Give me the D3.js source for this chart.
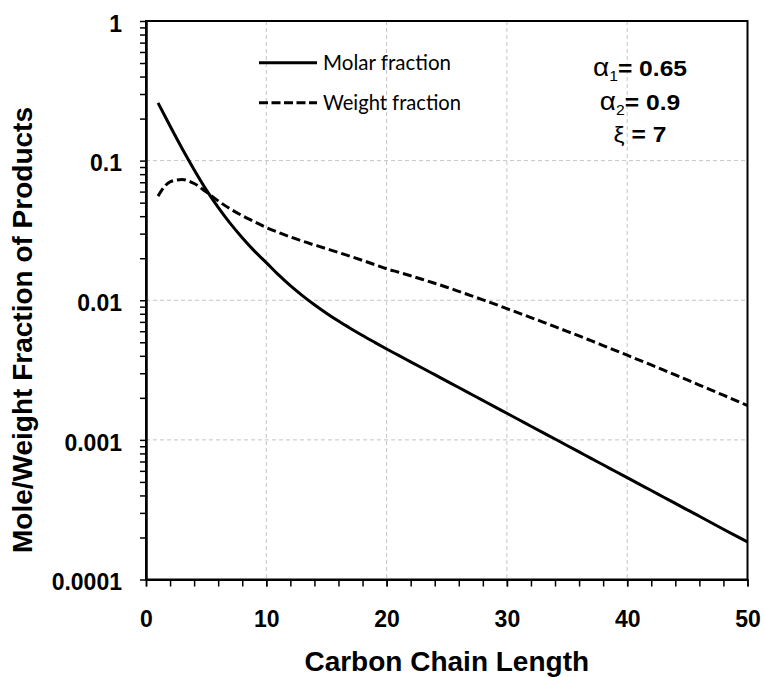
<!DOCTYPE html>
<html><head><meta charset="utf-8">
<script src="https://cdn.jsdelivr.net/npm/d3@7"></script>
<style>body{margin:0;background:#fff}</style>
</head><body>
<svg id="chart" width="764" height="677"></svg>
<script>
const carbonNumber = [1,2,3,4,5,6,7,8,9,10,11,12,13,14,15,16,17,18,19,20,21,22,23,24,25,26,27,28,29,30,31,32,33,34,35,36,37,38,39,40,41,42,43,44,45,46,47,48,49,50];
const molarFraction = [0.259,0.1769,0.1221,0.0861,0.0620,0.0462,0.0355,0.02805,0.02258,0.0186,0.01525,0.01273,0.0108,0.00929,0.00808,0.00709,0.00628,0.00559,0.0050,0.00448,
  0.004029,0.003623,0.003258,0.00293,0.002635,0.00237,0.002131,0.001916,0.001723,0.00155,0.001394,0.001253,0.001127,0.001014,0.000912,0.00082,0.000737,0.000663,0.000596,0.000536,
  0.000482,0.000434,0.00039,0.000351,0.000315,0.000284,0.000255,0.000229,0.000206,0.000186];
const weightFraction = [0.0557,0.0705,0.0733,0.0686,0.0598,0.0515,0.0451,0.0404,0.0366,0.0332,0.0306,0.0284,0.0265,0.0249,0.0234,0.0220,0.0206,0.0193,0.0180,0.0168,
  0.01588,0.01497,0.01409,0.01323,0.0124,0.01158,0.0108,0.01007,0.00938,0.0087,0.00809,0.00752,0.00698,0.00647,0.00599,0.00555,0.00513,0.00474,0.00438,0.00404,
  0.00373,0.00344,0.00317,0.00292,0.00269,0.00247,0.00227,0.00209,0.00192,0.00176];
const xTickValues = [0,10,20,30,40,50];
const xMinorTickValues = [0,2,4,6,8,10,12,14,16,18,20,22,24,26,28,30,32,34,36,38,40,42,44,46,48,50];
const xGridValues = [10,20,30,40];
const yTickValues = [1,0.1,0.01,0.001,0.0001];
const yTickLabels = ["1","0.1","0.01","0.001","0.0001"];
const yGridValues = [0.1,0.01,0.001];
const seriesNames = ["Molar fraction","Weight fraction"];
const xTitle = "Carbon Chain Length";
const yTitle = "Mole/Weight Fraction of Products";

const svg = d3.select("#chart");
const L = 146, R = 747.5, T = 21, B = 579.5;
const x = d3.scaleLinear().domain([0,50]).range([L,R]);
const y = d3.scaleLog().domain([1e-4,1]).range([B,T]);

const yMinor = [];
[1e-4,1e-3,1e-2,1e-1].forEach(d => { for (let k=2;k<=9;k++) yMinor.push(d*k); });

svg.append("g").selectAll("line").data(xGridValues).join("line")
  .attr("x1",d=>x(d)).attr("x2",d=>x(d)).attr("y1",T).attr("y2",B)
  .attr("stroke","#c4c4c4").attr("stroke-width",1).attr("stroke-dasharray","4,3");
svg.append("g").selectAll("line").data(yGridValues).join("line")
  .attr("x1",L).attr("x2",R).attr("y1",d=>y(d)).attr("y2",d=>y(d))
  .attr("stroke","#c4c4c4").attr("stroke-width",1).attr("stroke-dasharray","4,3");

const fontB = "'Liberation Sans', Arial, sans-serif";

const gx = svg.append("g").attr("transform",`translate(0,${B})`);
gx.append("g").call(d3.axisBottom(x).tickValues(xMinorTickValues).tickSize(7).tickSizeOuter(0).tickFormat(""));
gx.append("g").call(d3.axisBottom(x).tickValues(xTickValues).tickSize(7).tickSizeOuter(0).tickPadding(24).tickFormat(d3.format("d")));
gx.selectAll("text").attr("font-family",fontB).attr("font-weight","bold").attr("font-size",23).attr("fill","#000");

const gy = svg.append("g").attr("transform",`translate(${L},0)`);
gy.append("g").call(d3.axisLeft(y).tickValues(yMinor).tickSize(6).tickSizeOuter(0).tickFormat(""));
gy.append("g").call(d3.axisLeft(y).tickValues(yTickValues).tickSize(6).tickSizeOuter(0).tickPadding(18)
  .tickFormat((d,i)=>yTickLabels[i]));
gy.selectAll("text").attr("font-family",fontB).attr("font-weight","bold").attr("font-size",23).attr("fill","#000").attr("dy","0.44em");

svg.selectAll(".domain").attr("stroke","#000").attr("stroke-width",2);
svg.selectAll(".tick line").attr("stroke","#000").attr("stroke-width",1.5);

svg.append("rect").attr("x",L).attr("y",T).attr("width",R-L).attr("height",B-T)
  .attr("fill","none").attr("stroke","#000").attr("stroke-width",2);

const molarData = carbonNumber.map((n,i)=>({n, v: molarFraction[i]}));
const weightData = carbonNumber.map((n,i)=>({n, v: weightFraction[i]}));
const line = d3.line().x(d=>x(d.n)).y(d=>y(d.v)).curve(d3.curveMonotoneX);
svg.append("path").datum(molarData).attr("d",line).attr("fill","none").attr("stroke","#000").attr("stroke-width",3);
svg.append("path").datum(weightData).attr("d",line).attr("fill","none").attr("stroke","#000").attr("stroke-width",3).attr("stroke-dasharray","9,4");

const legY = [62.7, 102.7];
const legDash = [null, "9,3.5"];
const legW = [128, 138];
seriesNames.forEach((name,i)=>{
  svg.append("line").attr("x1",259).attr("x2",317).attr("y1",legY[i]).attr("y2",legY[i])
    .attr("stroke","#000").attr("stroke-width",3).attr("stroke-dasharray",legDash[i]);
  svg.append("text").attr("x",323).attr("y",legY[i]+7.5).text(name)
    .attr("font-family","Lato, 'Open Sans', sans-serif").attr("font-size",21).attr("fill","#000")
    .attr("textLength",legW[i]).attr("lengthAdjust","spacingAndGlyphs");
});

const params = [
  {sym:"α", sub:"1", rest:"= 0.65", y:76},
  {sym:"α", sub:"2", rest:"= 0.9", y:110},
  {sym:"ξ", sub:"", rest:" = 7", y:142}
];
const pg = svg.append("g").attr("transform","translate(640,0) scale(1.12,1)");
params.forEach(p=>{
  const t = pg.append("text").attr("x",0).attr("y",p.y).attr("text-anchor","middle")
    .attr("font-family",fontB).attr("font-weight","bold").attr("font-size",22).attr("fill","#000");
  t.append("tspan").text(p.sym).attr("font-weight","normal").attr("font-size",p.sub ? 25 : 22);
  if (p.sub) {
    t.append("tspan").text(p.sub).attr("font-size",14).attr("font-weight","normal").attr("dy",5);
    t.append("tspan").text(p.rest).attr("dy",-5);
  } else {
    t.append("tspan").text(p.rest);
  }
});

svg.append("text").attr("x",(L+R)/2).attr("y",671).attr("text-anchor","middle")
  .attr("font-family",fontB).attr("font-weight","bold").attr("font-size",28).text(xTitle);
svg.append("text").attr("transform","translate(32,330) rotate(-90)").attr("text-anchor","middle")
  .attr("font-family",fontB).attr("font-weight","bold").attr("font-size",28).text(yTitle);
</script>
</body></html>
